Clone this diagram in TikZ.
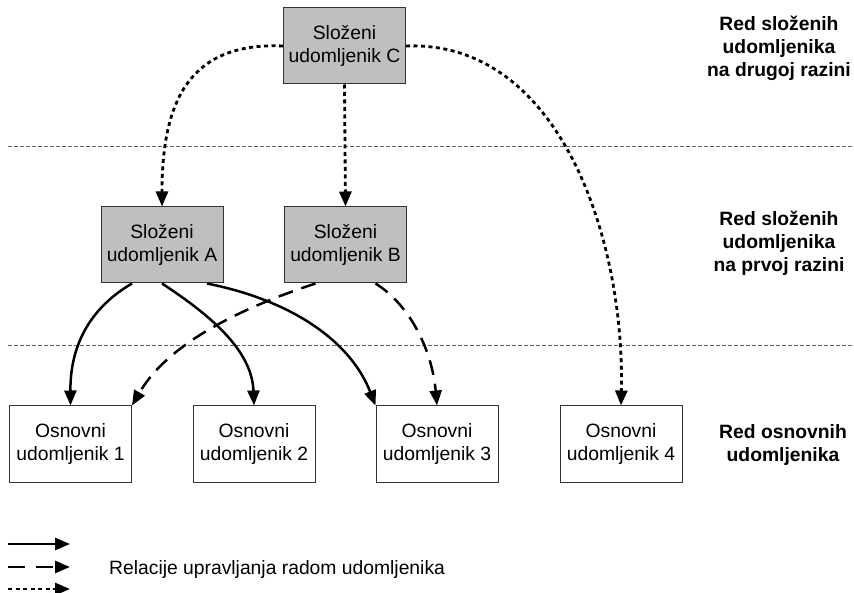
\documentclass[tikz,border=0pt]{standalone}
\usepackage{fontspec}
\setmainfont{Liberation Sans}
\usetikzlibrary{arrows.meta}
\begin{document}
\begin{tikzpicture}[x=1pt,y=-1pt,
  every node/.style={font=\fontsize{19.3}{23}\selectfont},
  box/.style={draw=black!80,line width=1pt,minimum width=122pt,minimum height=76pt,inner sep=0pt,align=center},
  graybox/.style={box,fill=black!25},
  whitebox/.style={box,fill=white},
  rowlabel/.style={align=center,font=\fontsize{19.3}{23}\selectfont\bfseries},
  sep/.style={draw=black!60,line width=0.8pt,dash pattern=on 4pt off 2pt},
  tip/.style={-{Triangle[length=15pt,width=12pt]}},
  solidrel/.style={tip,line width=2.5pt},
  dashrel/.style={tip,line width=2.5pt,dash pattern=on 15pt off 9pt},
  dotrel/.style={tip,line width=2.8pt,dash pattern=on 4pt off 3.5pt},
]
\useasboundingbox (0,0) rectangle (854,593);

% separators
\coordinate (s1a) at (8,146); \coordinate (s1b) at (854,146);
\coordinate (s2a) at (8,345); \coordinate (s2b) at (854,345);
\draw[sep] (s1a) -- (s1b);
\draw[sep] (s2a) -- (s2b);

% nodes
\node[graybox] (C) at (344.5,46) {Složeni\\udomljenik C};
\node[graybox] (A) at (162,245) {Složeni\\udomljenik A};
\node[graybox] (B) at (345.5,245) {Složeni\\udomljenik B};
\node[whitebox] (O1) at (70.5,444) {Osnovni\\udomljenik 1};
\node[whitebox] (O2) at (254,444) {Osnovni\\udomljenik 2};
\node[whitebox] (O3) at (437,444) {Osnovni\\udomljenik 3};
\node[whitebox] (O4) at (621,444) {Osnovni\\udomljenik 4};

% row labels
\node[rowlabel] (L1) at (779,48) {Red složenih\\udomljenika\\na drugoj razini};
\node[rowlabel] (L2) at (779,243) {Red složenih\\udomljenika\\na prvoj razini};
\node[rowlabel] (L3) at (783,445) {Red osnovnih\\udomljenika};

% dotted relations from C
\draw[dotrel] (C.west) .. controls (190,42) and (162,100) .. (A.north);
\draw[dotrel] (C.south) -- (B.north);
\draw[dotrel] (C.east) .. controls (560,40) and (625,240) .. (O4.north);

% solid relations from A
\draw[solidrel] ([xshift=-30pt]A.south) .. controls (95,305) and (70,340) .. (O1.north);
\draw[solidrel] (A.south) .. controls (210,315) and (252,350) .. (O2.north);
\draw[solidrel] ([xshift=45pt]A.south) .. controls (290,300) and (350,340) .. (O3.north west);

% dashed relations from B
\draw[dashrel] ([xshift=-30pt]B.south) .. controls (250,305) and (170,340) .. (O1.north east);
\draw[dashrel] ([xshift=30pt]B.south) .. controls (410,305) and (432,350) .. (O3.north);

% legend
\coordinate (la1) at (8,544); \coordinate (lb1) at (70,544);
\coordinate (la2) at (8,567); \coordinate (lb2) at (70,567);
\coordinate (la3) at (8,589); \coordinate (lb3) at (70,589);
\draw[solidrel] (la1) -- (lb1);
\draw[tip,line width=2.5pt,dash pattern=on 17pt off 11pt] (la2) -- (lb2);
\draw[dotrel] (la3) -- (lb3);
\node[anchor=base west,inner sep=0pt] (legend) at (109,574) {Relacije upravljanja radom udomljenika};
\end{tikzpicture}
\end{document}
